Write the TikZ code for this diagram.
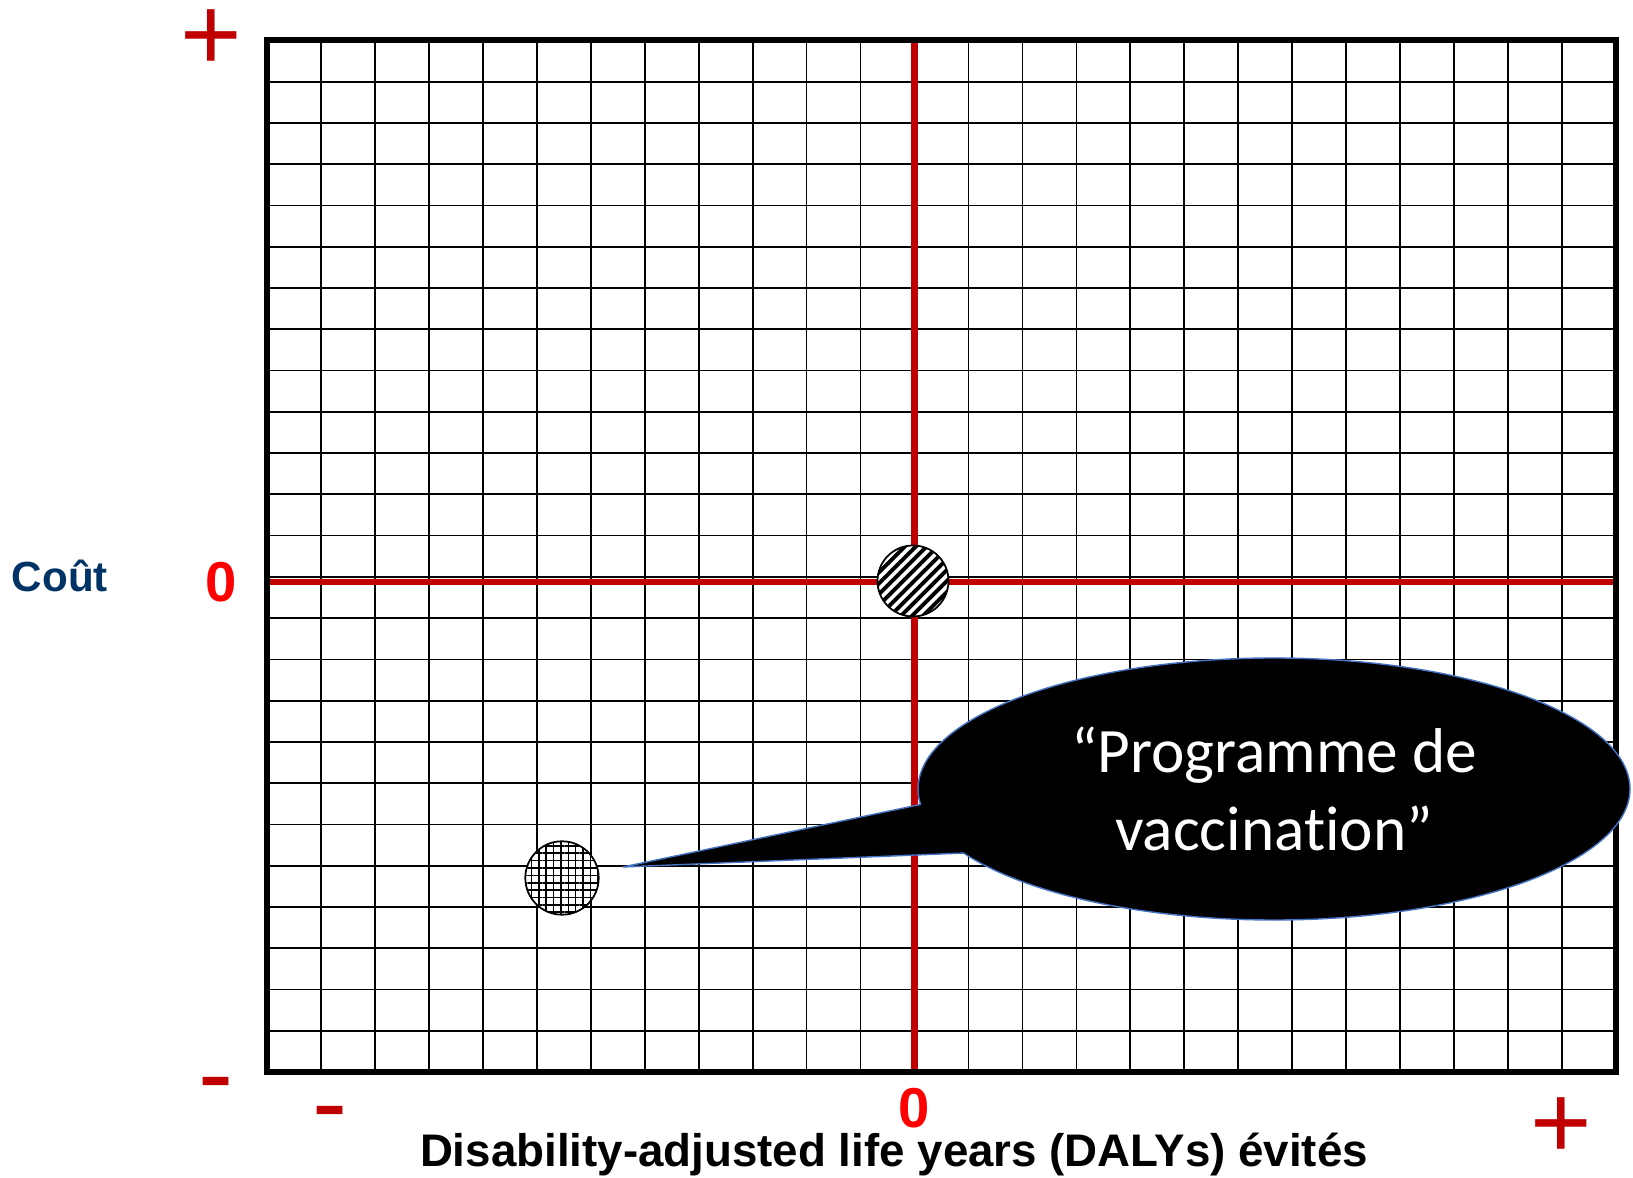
\documentclass[tikz,border=0pt]{standalone}
\usepackage{fontspec}
\setmainfont{Liberation Sans}
\newfontfamily\bubblefont[Ligatures=NoCommon]{Carlito}
\usetikzlibrary{shapes.callouts,patterns.meta}
\definecolor{axisred}{RGB}{192,0,0}
\definecolor{zerored}{RGB}{255,0,0}
\definecolor{costblue}{RGB}{0,51,102}
\definecolor{bubbleline}{RGB}{68,114,196}
\begin{document}
\begin{tikzpicture}[
        sign/.style={text=axisred,font=\fontsize{30}{36}\selectfont,anchor=base,inner sep=0pt},
        zero/.style={text=zerored,font=\fontsize{16}{19}\selectfont\bfseries,anchor=base,inner sep=0pt},
        marker/.style={circle,draw=black,line width=0.5pt,inner sep=0pt,preaction={fill=white}},
    ]
        \useasboundingbox (0,0) rectangle (16.33,11.78);
        %% grid
        \foreach \i in {1,...,24} {
            \draw[line width=0.5pt] ({2.67+\i*0.5396},1.06) -- ({2.67+\i*0.5396},11.375);
            \draw[line width=0.5pt] (2.67,{1.06+\i*0.4126}) -- (16.16,{1.06+\i*0.4126});
        }
        %% axes
        \draw[axisred,line width=1.8pt] (2.67,5.96) -- (16.16,5.96);
        \draw[axisred,line width=1.8pt] (9.145,1.06) -- (9.145,11.375);
        %% frame
        \draw[line width=1.7pt] (2.67,1.06) rectangle (16.16,11.375);
        %% labels
        \node[sign] (plustop) at (2.113,11.071) {+};
        \node[sign] (plusright) at (15.61,0.198) {+};
        \node[sign] (minusleft) at (2.16,0.687) {-};
        \node[sign] (minusbottom) at (3.30,0.397) {-};
        \node[zero] (zeroleft) at (2.207,5.764) {0};
        \node[zero] (zerobottom) at (9.145,0.501) {0};
        \node[anchor=base,text=costblue,font=\fontsize{12}{14}\selectfont\bfseries] (cost) at (0.60,5.863) {Coût};
        \node[anchor=base,font=\fontsize{13}{15}\selectfont\bfseries] (dalys) at (8.94,0.11) {Disability-adjusted life years (DALYs) évités};
        %% points
        \node[marker,minimum size=0.71cm,pattern={Lines[angle=45,distance=2.2pt,line width=1.1pt]}] (today) at (9.13,5.97) {};
        \node[marker,minimum size=0.734cm,pattern={Hatch[angle=0,distance=2.1pt,line width=0.45pt]}] (vaccine) at (5.62,3.00) {};
        %% bubble
        \coordinate (tip) at (6.23,3.11);
        \node[ellipse callout,draw=bubbleline,line width=0.4pt,fill=black,text=white,
              minimum width=7.12cm,minimum height=2.62cm,inner sep=0pt,
              callout absolute pointer={(tip)},callout pointer arc=22.5,
              font=\bubblefont\fontsize{18}{22}\selectfont,align=center] (bubble) at (12.74,3.89) {“Programme de\\vaccinat\kern0pt ion”};
    \end{tikzpicture}
\end{document}
